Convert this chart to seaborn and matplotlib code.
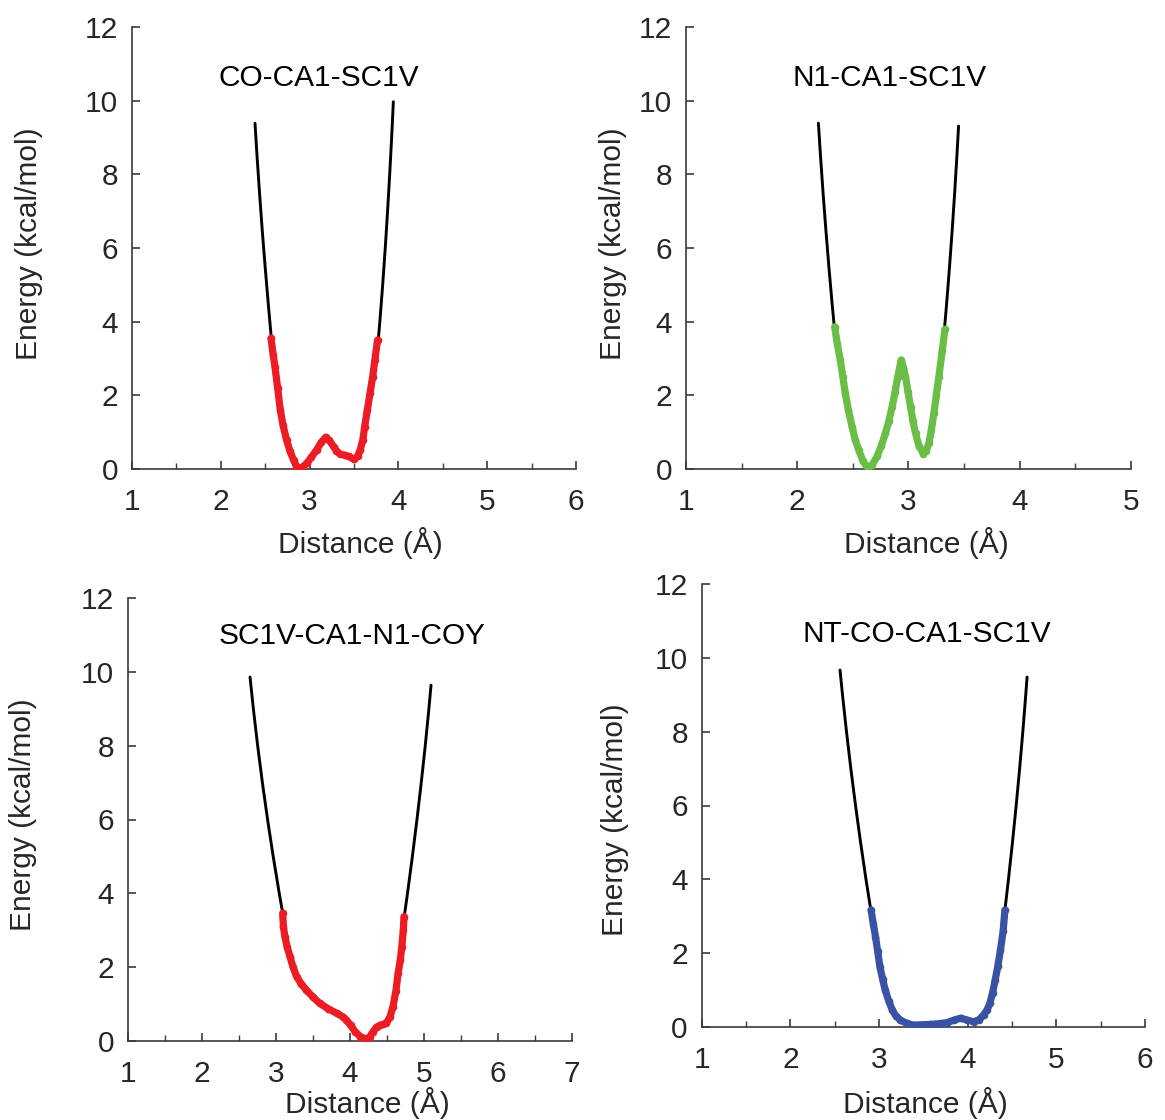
import matplotlib
matplotlib.use("Agg")
import matplotlib.pyplot as plt
import seaborn as sns
from matplotlib.ticker import MultipleLocator

sns.set_theme(style="white")
plt.rcParams["font.family"] = ["Liberation Sans", "DejaVu Sans"]

# ---- CO-CA1-SC1V ----
p1_fit_left_x = [2.385, 2.408, 2.436, 2.466, 2.499, 2.534, 2.569, 2.599]
p1_fit_left_y = [9.39, 8.5, 7.5, 6.5, 5.5, 4.5, 3.55, 2.8]
p1_fit_right_x = [3.943, 3.924, 3.902, 3.878, 3.852, 3.823, 3.791, 3.775, 3.752]
p1_fit_right_y = [9.97, 9.0, 8.0, 7.0, 6.0, 5.0, 4.0, 3.55, 2.9]
p1_pmf_x = [2.565, 2.59, 2.61, 2.64, 2.67, 2.70, 2.74, 2.78, 2.82, 2.85, 2.88,
            2.92, 2.97, 3.02, 3.08, 3.13, 3.18, 3.22, 3.27, 3.30, 3.34, 3.40,
            3.44, 3.50, 3.54, 3.57, 3.60, 3.62, 3.65, 3.68, 3.71, 3.735, 3.765]
p1_pmf_y = [3.55, 3.10, 2.78, 2.20, 1.60, 1.20, 0.79, 0.48, 0.24, 0.08, 0.02,
            0.05, 0.16, 0.32, 0.52, 0.72, 0.86, 0.78, 0.61, 0.50, 0.41, 0.37,
            0.34, 0.26, 0.35, 0.52, 0.80, 1.15, 1.60, 2.05, 2.50, 2.96, 3.50]

# ---- N1-CA1-SC1V ----
p2_fit_left_x = [2.19, 2.209, 2.232, 2.257, 2.284, 2.313, 2.333, 2.355]
p2_fit_left_y = [9.39, 8.5, 7.5, 6.5, 5.5, 4.5, 3.86, 3.2]
p2_fit_right_x = [3.45, 3.435, 3.415, 3.393, 3.369, 3.343, 3.323, 3.305]
p2_fit_right_y = [9.31, 8.5, 7.5, 6.5, 5.5, 4.5, 3.79, 3.2]
p2_pmf_x = [2.336, 2.36, 2.387, 2.41, 2.432, 2.46, 2.493, 2.52, 2.552, 2.59,
            2.633, 2.675, 2.718, 2.755, 2.793, 2.823, 2.853, 2.88, 2.904, 2.934,
            2.955, 2.973, 2.995, 3.018, 3.04, 3.063, 3.095, 3.132, 3.16, 3.183,
            3.205, 3.228, 3.25, 3.273, 3.304, 3.327]
p2_pmf_y = [3.86, 3.40, 2.96, 2.50, 2.05, 1.60, 1.15, 0.80, 0.52, 0.22,
            0.02, 0.12, 0.34, 0.63, 0.97, 1.30, 1.69, 2.10, 2.51, 2.96,
            2.75, 2.51, 2.10, 1.69, 1.30, 0.97, 0.62, 0.42, 0.50, 0.70,
            1.05, 1.51, 2.00, 2.51, 3.23, 3.79]

# ---- SC1V-CA1-N1-COY ----
p3_fit_left_x = [2.649, 2.694, 2.752, 2.816, 2.886, 2.962, 3.044, 3.091, 3.12]
p3_fit_left_y = [9.86, 9.0, 8.0, 7.0, 6.0, 5.0, 4.0, 3.46, 2.9]
p3_fit_right_x = [5.095, 5.066, 5.017, 4.963, 4.905, 4.843, 4.777, 4.733, 4.691]
p3_fit_right_y = [9.64, 9.0, 8.0, 7.0, 6.0, 5.0, 4.0, 3.37, 2.8]
p3_pmf_x = [3.09, 3.10, 3.12, 3.15, 3.19, 3.23, 3.28, 3.34, 3.41, 3.50, 3.59,
            3.70, 3.82, 3.90, 3.95, 4.01, 4.07, 4.14, 4.22, 4.27, 4.31, 4.36,
            4.41, 4.45, 4.49, 4.54, 4.58, 4.62, 4.65, 4.68, 4.70, 4.72, 4.73]
p3_pmf_y = [3.46, 3.10, 2.83, 2.55, 2.28, 2.00, 1.74, 1.55, 1.38, 1.19, 1.02,
            0.88, 0.75, 0.66, 0.57, 0.42, 0.25, 0.12, 0.05, 0.12, 0.25, 0.38,
            0.43, 0.45, 0.48, 0.65, 0.93, 1.35, 1.83, 2.20, 2.55, 3.00, 3.37]

# ---- NT-CO-CA1-SC1V ----
p4_fit_left_x = [2.56, 2.588, 2.633, 2.682, 2.735, 2.792, 2.853, 2.907, 2.946]
p4_fit_left_y = [9.67, 9.0, 8.0, 7.0, 6.0, 5.0, 4.0, 3.17, 2.6]
p4_fit_right_x = [4.67, 4.655, 4.622, 4.586, 4.547, 4.505, 4.46, 4.42, 4.39]
p4_fit_right_y = [9.48, 9.0, 8.0, 7.0, 6.0, 5.0, 4.0, 3.17, 2.6]
p4_pmf_x = [2.91, 2.935, 2.96, 2.985, 3.01, 3.04, 3.07, 3.11, 3.15, 3.19, 3.24,
            3.31, 3.39, 3.48, 3.58, 3.68, 3.77, 3.85, 3.92, 3.99, 4.07, 4.13,
            4.18, 4.22, 4.25, 4.28, 4.31, 4.34, 4.37, 4.40, 4.42]
p4_pmf_y = [3.17, 2.80, 2.45, 2.05, 1.63, 1.30, 1.00, 0.70, 0.46, 0.30, 0.19,
            0.10, 0.05, 0.06, 0.07, 0.09, 0.12, 0.19, 0.24, 0.19, 0.14, 0.20,
            0.33, 0.47, 0.64, 0.92, 1.27, 1.65, 2.09, 2.60, 3.17]

titles = ["CO-CA1-SC1V", "N1-CA1-SC1V", "SC1V-CA1-N1-COY", "NT-CO-CA1-SC1V"]
x_limits = [(1, 6), (1, 5), (1, 7), (1, 6)]
pmf_colors = ["#EC1C24", "#6ABD45", "#EC1C24", "#3853A4"]

W, H = 1165, 1120
FS = 21.5

# axes boxes in pixels: left, top, right, bottom
boxes = [(132, 27, 576, 469), (686, 27, 1131, 469),
         (128, 598, 572, 1041), (701.7, 584, 1145, 1027)]
# title anchor (x px, baseline y px), xlabel (center x, top y), ylabel (right x, center y)
title_pos = [(318.5, 86), (890, 86), (352, 643.5), (927, 642.5)]
xlabel_pos = [(360, 527), (926, 527), (367, 1087), (925, 1087)]
ylabel_pos = [(43, 244), (627, 244), (37, 815), (629, 820)]

fits = [
    (p1_fit_left_x, p1_fit_left_y, p1_fit_right_x, p1_fit_right_y),
    (p2_fit_left_x, p2_fit_left_y, p2_fit_right_x, p2_fit_right_y),
    (p3_fit_left_x, p3_fit_left_y, p3_fit_right_x, p3_fit_right_y),
    (p4_fit_left_x, p4_fit_left_y, p4_fit_right_x, p4_fit_right_y),
]
pmfs = [(p1_pmf_x, p1_pmf_y), (p2_pmf_x, p2_pmf_y),
        (p3_pmf_x, p3_pmf_y), (p4_pmf_x, p4_pmf_y)]

fig = plt.figure(figsize=(W / 100, H / 100), dpi=100)

for i in range(4):
    l, t, r, b = boxes[i]
    ax = fig.add_axes([l / W, 1 - b / H, (r - l) / W, (b - t) / H])
    w_px, h_px = r - l, b - t

    lx, ly, rx, ry = fits[i]
    for fx, fy in ((lx, ly), (rx, ry)):
        sns.lineplot(x=fx, y=fy, ax=ax, color="black", linewidth=2.1,
                     sort=False, estimator=None, solid_joinstyle="round")
    px, py = pmfs[i]
    sns.lineplot(x=px, y=py, ax=ax, color=pmf_colors[i], linewidth=5.2,
                 sort=False, estimator=None, marker="o", markersize=5.5,
                 markeredgewidth=0, solid_capstyle="round",
                 solid_joinstyle="round", zorder=3)

    ax.set_xlim(*x_limits[i])
    ax.set_ylim(0, 12)
    ax.xaxis.set_major_locator(MultipleLocator(1))
    ax.xaxis.set_minor_locator(MultipleLocator(0.5))
    ax.yaxis.set_major_locator(MultipleLocator(2))

    for side in ("top", "right"):
        ax.spines[side].set_visible(False)
    for side in ("left", "bottom"):
        ax.spines[side].set_color("#3a3a3a")
        ax.spines[side].set_linewidth(1.2)

    ax.tick_params(axis="x", which="major", direction="in", length=6, width=1.2,
                   color="#3a3a3a", labelsize=FS, pad=14, bottom=True)
    ax.tick_params(axis="x", which="minor", direction="in", length=4, width=1.0,
                   color="#3a3a3a", bottom=True)
    ax.tick_params(axis="y", which="major", direction="in", length=6, width=1.2,
                   color="#3a3a3a", labelsize=FS, pad=10, left=True)
    ax.set_facecolor("white")
    ax.grid(False)

    ax.set_xlabel("Distance (Å)", fontsize=FS)
    ax.set_ylabel("Energy (kcal/mol)", fontsize=FS)
    xlx, xly = xlabel_pos[i]
    ax.xaxis.set_label_coords((xlx - l) / w_px, (b - xly) / h_px)
    ylx, yly = ylabel_pos[i]
    ax.yaxis.set_label_coords((ylx - l) / w_px, (b - yly) / h_px)

    tx, ty = title_pos[i]
    ax.text((tx - l) / w_px, (b - ty) / h_px, titles[i], transform=ax.transAxes,
            ha="center", va="baseline", fontsize=FS, color="black")

fig.savefig("out.png", dpi=100, facecolor="white")
